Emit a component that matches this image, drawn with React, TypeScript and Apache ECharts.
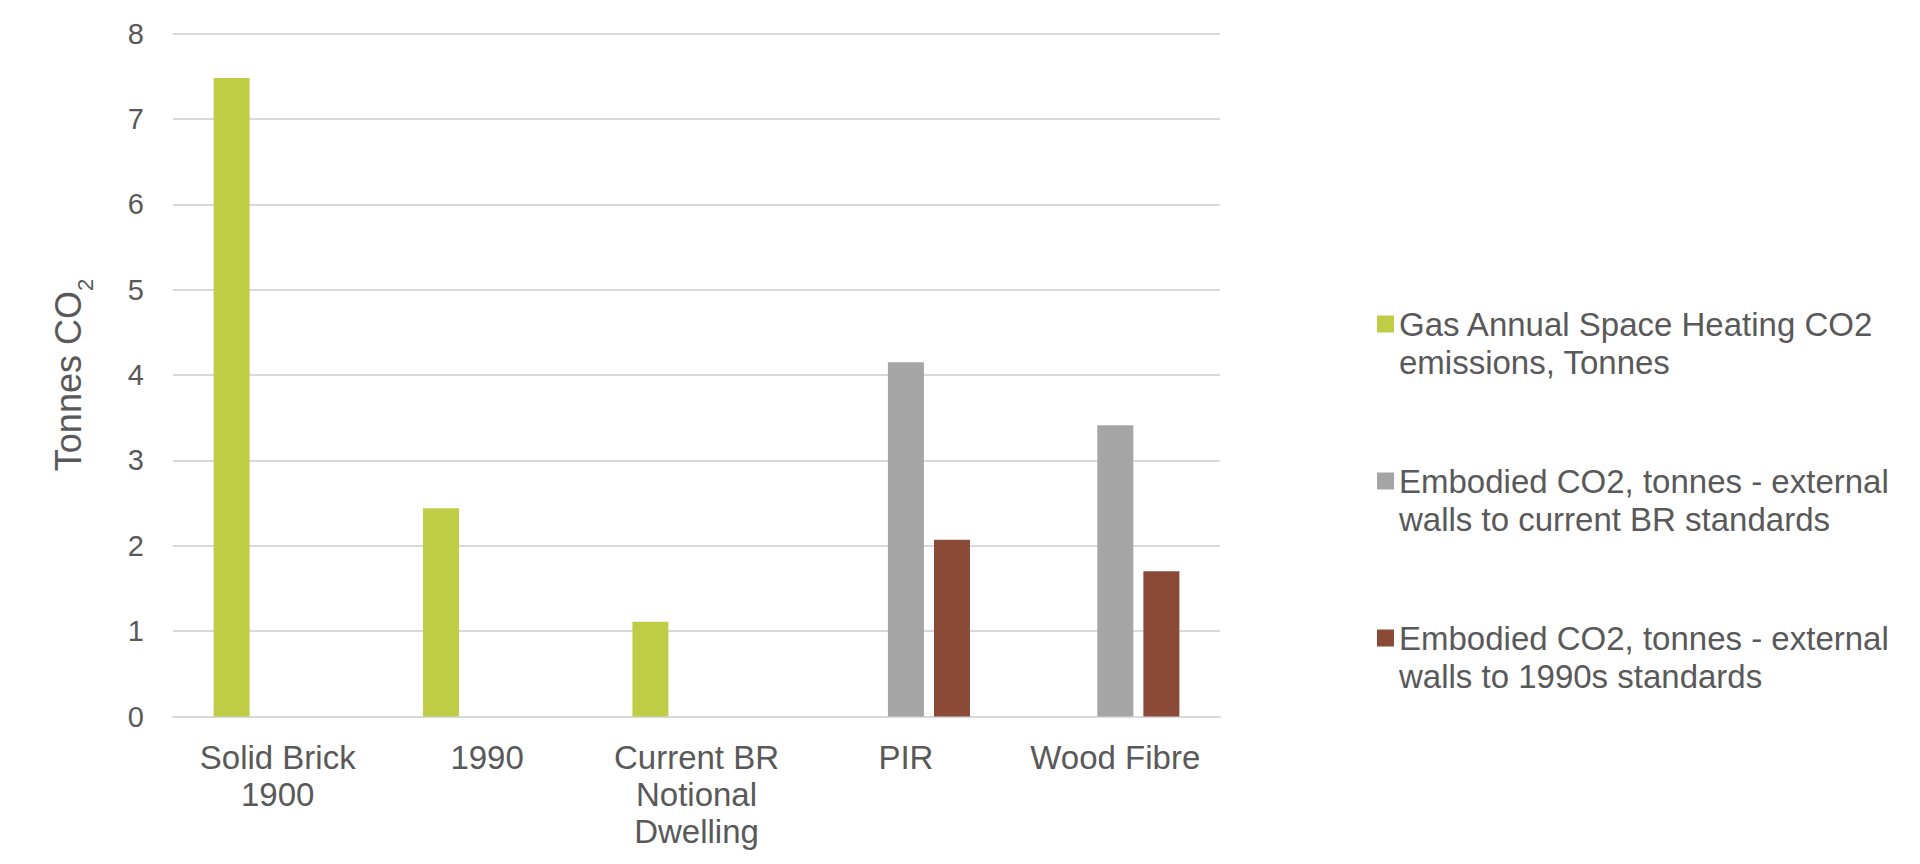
import React, { useEffect, useRef } from "react";
import * as echarts from "echarts";

const categories = ["Solid Brick\n1900", "1990", "Current BR\nNotional\nDwelling", "PIR", "Wood Fibre"];
const seriesNames = [
  "Gas Annual Space Heating CO2 emissions, Tonnes",
  "Embodied CO2, tonnes - external walls to current BR standards",
  "Embodied CO2, tonnes - external walls to 1990s standards",
];
const legendLabels = [
  "Gas Annual Space Heating CO2\nemissions, Tonnes",
  "Embodied CO2, tonnes - external\nwalls to current BR standards",
  "Embodied CO2, tonnes - external\nwalls to 1990s standards",
];
const gasHeating = [7.48, 2.44, 1.11, null, null];
const embodiedCurrentBR = [null, null, null, 4.15, 3.41];
const embodied1990s = [null, null, null, 2.07, 1.7];
const yTicks = [0, 8, 1]; // min, max, interval
const colors = ["#BFCC46", "#A5A5A5", "#8B4A38"];

const FONT = '"Liberation Sans", Arial, sans-serif';
const TEXT = "#595959";

export default function App() {
  const ref = useRef<HTMLDivElement>(null);
  useEffect(() => {
    document.body.style.margin = "0";
    if (!ref.current) return;
    const chart = echarts.init(ref.current, null, { renderer: "svg" });
    const values = [gasHeating, embodiedCurrentBR, embodied1990s];
    chart.setOption({
      animation: false,
      backgroundColor: "#FFFFFF",
      textStyle: { fontFamily: FONT },
      grid: { left: 173, right: 700, top: 33.5, bottom: 147.5, outerBoundsMode: "none" },
      legend: {
        orient: "vertical",
        left: 1377,
        top: 267,
        padding: 0,
        itemGap: 43,
        itemWidth: 17,
        itemHeight: 17,
        icon: "rect",
        data: seriesNames,
        // leading empty line keeps the icon level with the first text line
        formatter: (name: string) => "\n" + legendLabels[seriesNames.indexOf(name)],
        textStyle: {
          fontFamily: FONT,
          fontSize: 33,
          lineHeight: 38,
          color: TEXT,
        },
      },
      xAxis: {
        type: "category",
        data: categories,
        axisLine: { show: true, lineStyle: { color: "#D9D9D9", width: 2 } },
        axisTick: { show: false },
        axisLabel: {
          interval: 0,
          margin: 22,
          fontFamily: FONT,
          fontSize: 33,
          lineHeight: 37,
          color: TEXT,
        },
      },
      yAxis: {
        type: "value",
        min: yTicks[0],
        max: yTicks[1],
        interval: yTicks[2],
        name: "{m|Tonnes CO}{s|2}",
        nameLocation: "middle",
        nameRotate: 90,
        nameGap: 77,
        nameTextStyle: {
          fontFamily: FONT,
          fontSize: 36,
          color: TEXT,
          rich: {
            m: { fontFamily: FONT, fontSize: 36, color: TEXT, lineHeight: 40, verticalAlign: "top" },
            s: { fontFamily: FONT, fontSize: 22, color: TEXT, lineHeight: 46, verticalAlign: "bottom" },
          },
        },
        axisLine: { show: false },
        axisTick: { show: false },
        splitLine: { show: true, lineStyle: { color: "#D9D9D9", width: 2 } },
        axisLabel: { margin: 29, fontFamily: FONT, fontSize: 29, color: TEXT },
      },
      series: seriesNames.map((name, i) => ({
        name,
        type: "bar",
        data: values[i],
        barWidth: 36,
        barGap: "28%",
        itemStyle: { color: colors[i] },
      })),
    });
    return () => chart.dispose();
  }, []);
  return <div ref={ref} style={{ width: 1920, height: 864 }} />;
}
